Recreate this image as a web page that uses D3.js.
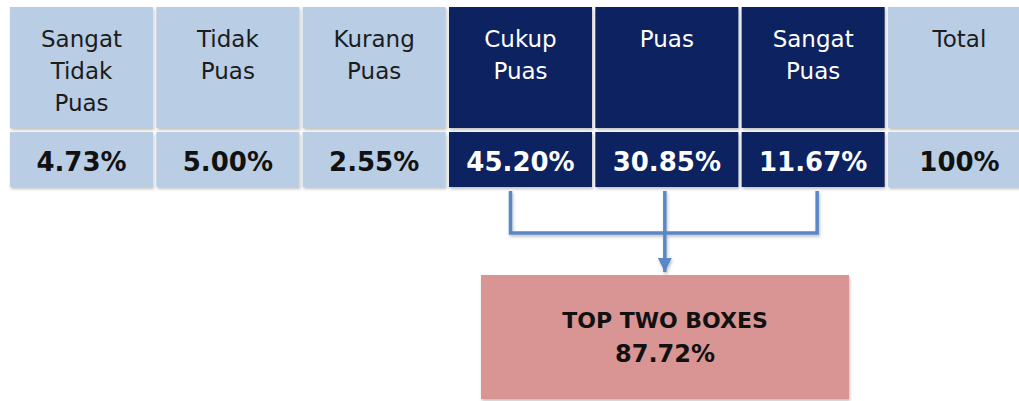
<!DOCTYPE html>
<html>
<head>
<meta charset="utf-8">
<script src="https://cdn.jsdelivr.net/npm/d3@7"></script>
<style>
  body { margin: 0; background: #fff; }
  svg { display: block; font-family: "DejaVu Sans", Verdana, sans-serif; }
</style>
</head>
<body>
<div id="chart"></div>
<script>
// categories (header lines), values and which ones are the "top" boxes
var categories = ["Sangat Tidak Puas", "Tidak Puas", "Kurang Puas", "Cukup Puas", "Puas", "Sangat Puas", "Total"];
var headerLines = [["Sangat", "Tidak", "Puas"], ["Tidak", "Puas"], ["Kurang", "Puas"], ["Cukup", "Puas"], ["Puas"], ["Sangat", "Puas"], ["Total"]];
var values = ["4.73%", "5.00%", "2.55%", "45.20%", "30.85%", "11.67%", "100%"];
var topBoxes = ["Cukup Puas", "Puas", "Sangat Puas"];
var topTitle = "TOP TWO BOXES";
var topValue = "87.72%";

var width = 1019, height = 401;
var lightBlue = "#b9cde5", navy = "#0b2161", lineBlue = "#5a87c5", pink = "#d99594";

var svg = d3.select("#chart").append("svg")
  .attr("width", width)
  .attr("height", height);

var defs = svg.append("defs");
var shadow = defs.append("filter").attr("id", "shadow")
  .attr("x", "-10%").attr("y", "-10%").attr("width", "130%").attr("height", "140%");
shadow.append("feDropShadow")
  .attr("dx", 1).attr("dy", 2).attr("stdDeviation", 1.5)
  .attr("flood-color", "#000").attr("flood-opacity", 0.25);

defs.append("marker")
  .attr("id", "arrow")
  .attr("viewBox", "0 0 10 10")
  .attr("refX", 10).attr("refY", 5)
  .attr("markerWidth", 4).attr("markerHeight", 4)
  .attr("markerUnits", "strokeWidth")
  .attr("orient", "auto")
  .append("path")
  .attr("d", "M0,0L10,5L0,10Z")
  .attr("fill", lineBlue);

// the table runs past the right edge of the picture (Total column is cut off)
var x = d3.scaleBand()
  .domain(categories)
  .range([10, 1031])
  .paddingInner(0.0226);

var headerTop = 7, headerBottom = 128, valueTop = 132, valueBottom = 187;
var isTop = function (c) { return topBoxes.indexOf(c) >= 0; };

var cols = svg.append("g").selectAll("g")
  .data(categories)
  .enter().append("g")
  .attr("transform", function (d) { return "translate(" + x(d) + ",0)"; });

cols.append("rect")
  .attr("y", headerTop)
  .attr("width", x.bandwidth())
  .attr("height", headerBottom - headerTop)
  .attr("fill", function (d) { return isTop(d) ? navy : lightBlue; })
  .attr("filter", "url(#shadow)");

cols.append("rect")
  .attr("y", valueTop)
  .attr("width", x.bandwidth())
  .attr("height", valueBottom - valueTop)
  .attr("fill", function (d) { return isTop(d) ? navy : lightBlue; })
  .attr("filter", "url(#shadow)");

cols.each(function (d, i) {
  var g = d3.select(this);
  var color = isTop(d) ? "#ffffff" : "#1c1c1c";
  g.selectAll("text.head")
    .data(headerLines[i])
    .enter().append("text")
    .attr("class", "head")
    .attr("x", x.bandwidth() / 2)
    .attr("y", function (t, j) { return 47 + j * 32; })
    .attr("text-anchor", "middle")
    .attr("font-size", 23)
    .attr("fill", color)
    .text(function (t) { return t; });

  g.append("text")
    .attr("x", x.bandwidth() / 2)
    .attr("y", 171)
    .attr("text-anchor", "middle")
    .attr("font-size", 26)
    .attr("font-weight", "bold")
    .attr("fill", isTop(d) ? "#ffffff" : "#111")
    .text(values[i]);
});

// connector from the top boxes down to the summary box
var cx = topBoxes.map(function (c) { return x(c) + x.bandwidth() / 2; });
var lineTop = 191, lineJoin = 233, arrowTip = 272;
var conn = svg.append("g")
  .attr("stroke", lineBlue)
  .attr("stroke-width", 3.5)
  .attr("fill", "none")
  .attr("filter", "url(#shadow)");

conn.append("path")
  .attr("d", "M" + (cx[0] - 10) + "," + lineTop + "V" + lineJoin + "H" + (cx[2] + 4) + "V" + lineTop);
conn.append("line")
  .attr("x1", cx[1] - 2).attr("x2", cx[1] - 2)
  .attr("y1", lineTop).attr("y2", arrowTip)
  .attr("marker-end", "url(#arrow)");

// summary box
var boxX = 481, boxW = 368, boxY = 275, boxH = 124;
svg.append("rect")
  .attr("x", boxX).attr("y", boxY)
  .attr("width", boxW).attr("height", boxH)
  .attr("fill", pink)
  .attr("filter", "url(#shadow)");

svg.append("text")
  .attr("x", boxX + boxW / 2).attr("y", 328)
  .attr("text-anchor", "middle")
  .attr("font-size", 22)
  .attr("font-weight", "bold")
  .attr("fill", "#111")
  .text(topTitle);

svg.append("text")
  .attr("x", boxX + boxW / 2).attr("y", 362)
  .attr("text-anchor", "middle")
  .attr("font-size", 24)
  .attr("font-weight", "bold")
  .attr("fill", "#111")
  .text(topValue);
</script>
</body>
</html>
